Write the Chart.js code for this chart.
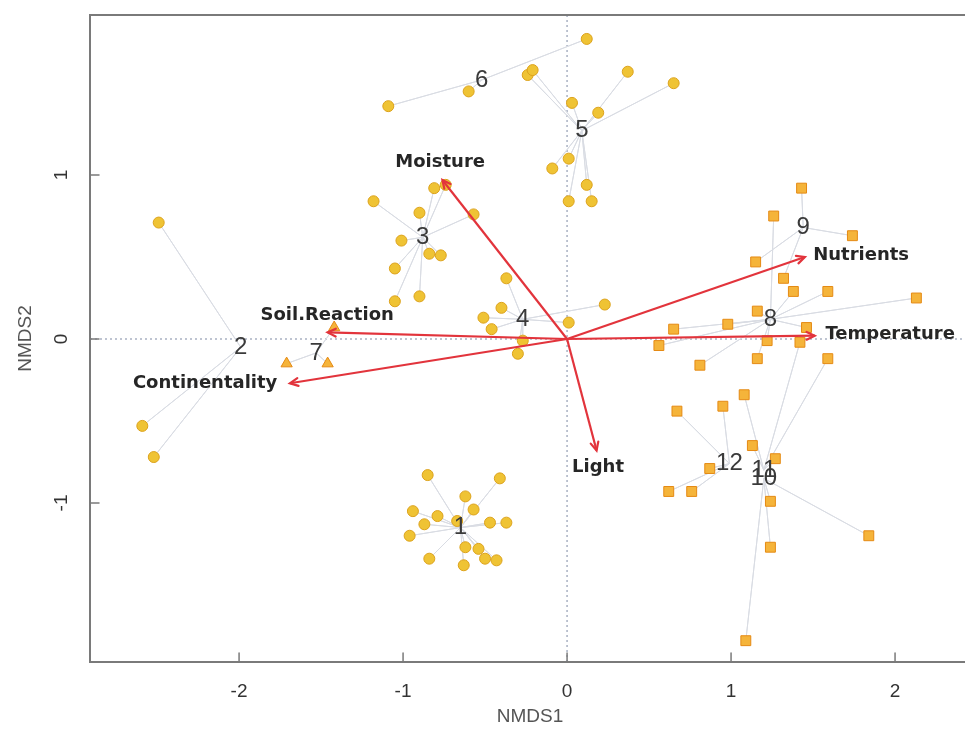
<!DOCTYPE html>
<html><head><meta charset="utf-8">
<script src="https://cdn.jsdelivr.net/npm/chart.js@4.4.1/dist/chart.umd.min.js"></script>
<style>html,body{margin:0;padding:0;background:#fff;overflow:hidden;}#wrap{width:990px;height:732px;}</style>
</head><body><div id="wrap"><canvas id="c" width="990" height="732"></canvas></div>
<script>
// ---------- data ----------
const xTicks = [-2, -1, 0, 1, 2];
const yTicks = [-1, 0, 1];
const xRange = [-2.909, 2.457];
const yRange = [-1.970, 1.976];

const groupNames = ['1','2','3','4','5','6','7','8','9','10','11','12'];
const centroidX = [-0.65, -1.99, -0.88, -0.27, 0.09, -0.52, -1.53, 1.24, 1.44, 1.20, 1.20, 0.99];
const centroidY = [-1.15, -0.05, 0.62, 0.12, 1.27, 1.58, -0.085, 0.12, 0.68, -0.85, -0.80, -0.76];

const group1 = [[-0.85,-0.83],[-0.41,-0.85],[-0.62,-0.96],[-0.57,-1.04],[-0.94,-1.05],[-0.79,-1.08],[-0.87,-1.13],[-0.96,-1.20],[-0.47,-1.12],[-0.37,-1.12],[-0.67,-1.11],[-0.62,-1.27],[-0.54,-1.28],[-0.50,-1.34],[-0.43,-1.35],[-0.84,-1.34],[-0.63,-1.38]];
const group2 = [[-2.49,0.71],[-2.59,-0.53],[-2.52,-0.72]];
const group3 = [[-1.18,0.84],[-0.81,0.92],[-0.74,0.94],[-0.90,0.77],[-1.01,0.60],[-0.84,0.52],[-0.77,0.51],[-1.05,0.43],[-1.05,0.23],[-0.90,0.26],[-0.57,0.76]];
const group4 = [[-0.37,0.37],[-0.40,0.19],[-0.51,0.13],[-0.46,0.06],[-0.27,-0.01],[-0.30,-0.09],[0.01,0.10],[0.23,0.21]];
const group5 = [[0.37,1.63],[0.65,1.56],[0.03,1.44],[0.19,1.38],[0.01,1.10],[-0.09,1.04],[0.12,0.94],[0.01,0.84],[0.15,0.84],[-0.24,1.61],[-0.21,1.64]];
const group6 = [[-1.09,1.42],[-0.60,1.51],[0.12,1.83]];
const group7 = [[-1.71,-0.15],[-1.46,-0.15],[-1.42,0.07]];
const group8 = [[1.26,0.75],[1.38,0.29],[1.59,0.29],[2.13,0.25],[1.16,0.17],[0.98,0.09],[0.65,0.06],[0.56,-0.04],[1.22,-0.01],[1.46,0.07],[1.16,-0.12],[0.81,-0.16]];
const group9 = [[1.43,0.92],[1.74,0.63],[1.15,0.47],[1.32,0.37]];
const group10 = [[1.24,-0.99],[1.24,-1.27],[1.84,-1.20],[1.09,-1.84]];
const group11 = [[1.42,-0.02],[1.59,-0.12],[1.08,-0.34],[1.13,-0.65],[1.27,-0.73]];
const group12 = [[0.95,-0.41],[0.67,-0.44],[0.87,-0.79],[0.62,-0.93],[0.76,-0.93]];
const groups = [group1,group2,group3,group4,group5,group6,group7,group8,group9,group10,group11,group12];

const envNames = ['Moisture','Soil.Reaction','Continentality','Light','Temperature','Nutrients'];
const envX = [-0.76, -1.46, -1.69, 0.18, 1.51, 1.45];
const envY = [0.97, 0.04, -0.27, -0.68, 0.02, 0.50];
const envLabelX = [-0.774, -1.463, -2.207, 0.189, 1.970, 1.793];
const envLabelY = [1.079, 0.146, -0.268, -0.780, 0.030, 0.512];

// ---------- styles ----------
const shapeFor = i => i < 6 ? 'circle' : (i === 6 ? 'triangle' : 'rect');
const fillFor = i => i < 6 ? '#efc334' : '#f5b43a';
const edgeFor = i => i < 6 ? '#dca21c' : '#e58a14';
const radiusFor = i => i < 6 ? 5.5 : (i === 6 ? 6.5 : 7);
const arrowColor = '#e2343c';

const datasets = [];
// zero reference lines
datasets.push({type:'line', data:[{x:0,y:yRange[0]},{x:0,y:yRange[1]}], borderColor:'#a9b1c2', borderWidth:1.5, borderDash:[2,3], pointRadius:0, order:6});
datasets.push({type:'line', data:[{x:xRange[0],y:0},{x:xRange[1],y:0}], borderColor:'#a9b1c2', borderWidth:1.5, borderDash:[2,3], pointRadius:0, order:6});
// spiders
groups.forEach((g, i) => {
  const c = {x:centroidX[i], y:centroidY[i]};
  const d = [];
  g.forEach(p => { d.push(c); d.push({x:p[0], y:p[1]}); });
  d.push(c);
  datasets.push({type:'line', data:d, borderColor:'#d9dce3', borderWidth:1, pointRadius:0, tension:0, order:5});
});
// points
groups.forEach((g, i) => {
  datasets.push({type:'scatter', data:g.map(p => ({x:p[0], y:p[1]})), pointStyle:shapeFor(i), pointRadius:radiusFor(i),
    backgroundColor:fillFor(i), borderColor:edgeFor(i), borderWidth:1, order:3});
});
// env arrows
envNames.forEach((n, i) => {
  datasets.push({type:'line', data:[{x:0,y:0},{x:envX[i], y:envY[i]}], borderColor:arrowColor, borderWidth:2.2, pointRadius:0, order:1});
});

const overlay = {
  id:'overlay',
  afterDatasetsDraw(chart){
    const {ctx, chartArea:a, scales:{x, y}} = chart;
    ctx.save();
    // arrow heads
    ctx.strokeStyle = arrowColor; ctx.lineWidth = 2.2; ctx.lineCap = 'round';
    const x0 = x.getPixelForValue(0), y0 = y.getPixelForValue(0);
    envNames.forEach((n, i) => {
      const x1 = x.getPixelForValue(envX[i]), y1 = y.getPixelForValue(envY[i]);
      const ang = Math.atan2(y1 - y0, x1 - x0), L = 9, sp = Math.PI / 7;
      ctx.beginPath();
      ctx.moveTo(x1 - L*Math.cos(ang - sp), y1 - L*Math.sin(ang - sp));
      ctx.lineTo(x1, y1);
      ctx.lineTo(x1 - L*Math.cos(ang + sp), y1 - L*Math.sin(ang + sp));
      ctx.stroke();
    });
    // group labels
    ctx.font = '24px "Liberation Sans"'; ctx.fillStyle = '#3a3a3a';
    ctx.textAlign = 'center'; ctx.textBaseline = 'middle';
    groupNames.forEach((n, i) => ctx.fillText(n, x.getPixelForValue(centroidX[i]), y.getPixelForValue(centroidY[i])));
    // env labels
    ctx.font = 'bold 18px "DejaVu Sans"'; ctx.fillStyle = '#262626';
    envNames.forEach((n, i) => ctx.fillText(n, x.getPixelForValue(envLabelX[i]), y.getPixelForValue(envLabelY[i])));
    // frame
    ctx.strokeStyle = '#7a7a7a'; ctx.lineWidth = 2;
    ctx.strokeRect(a.left, a.top, a.right - a.left, a.bottom - a.top);
    ctx.lineWidth = 1.5;
    ctx.beginPath();
    xTicks.forEach(v => { const px = x.getPixelForValue(v); ctx.moveTo(px, a.bottom); ctx.lineTo(px, a.bottom - 9); });
    yTicks.forEach(v => { const py = y.getPixelForValue(v); ctx.moveTo(a.left, py); ctx.lineTo(a.left + 9, py); });
    ctx.stroke();
    ctx.restore();
  }
};

new Chart(document.getElementById('c'), {
  type:'scatter',
  data:{datasets},
  options:{
    responsive:false, animation:false, devicePixelRatio:1,
    layout:{padding:{top:15, right:20, left:0, bottom:0}},
    plugins:{legend:{display:false}, tooltip:{enabled:false}},
    scales:{
      x:{type:'linear', min:xRange[0], max:xRange[1],
        afterBuildTicks:s => { s.ticks = xTicks.map(v => ({value:v})); },
        afterFit:s => { s.height = 70; s.paddingLeft = 0; s.paddingRight = 0; },
        grid:{display:false, drawTicks:false}, border:{display:false},
        ticks:{color:'#333', font:{family:'Liberation Sans', size:19}, padding:18},
        title:{display:true, text:'NMDS1', color:'#555', font:{family:'Liberation Sans', size:19}, padding:{top:0, bottom:4}}
      },
      y:{type:'linear', min:yRange[0], max:yRange[1],
        afterBuildTicks:s => { s.ticks = yTicks.map(v => ({value:v})); },
        afterFit:s => { s.width = 90; s.paddingTop = 0; s.paddingBottom = 0; },
        grid:{display:false, drawTicks:false}, border:{display:false},
        ticks:{color:'#333', font:{family:'Liberation Sans', size:19}, padding:20, minRotation:90, maxRotation:90, crossAlign:'center'},
        title:{display:true, text:'NMDS2', color:'#555', font:{family:'Liberation Sans', size:19}, padding:{top:14, bottom:0}}
      }
    }
  },
  plugins:[overlay]
});
</script></body></html>
